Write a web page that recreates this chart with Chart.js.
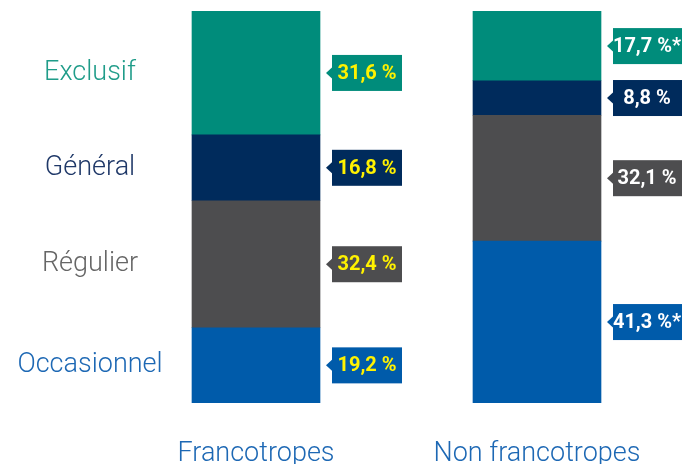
<!DOCTYPE html>
<html>
<head>
<meta charset="utf-8">
<script src="https://cdn.jsdelivr.net/npm/chart.js@4"></script>
<style>
html,body{margin:0;padding:0;background:#fff;}
canvas{display:block;}
</style>
</head>
<body>
<canvas id="c" width="682" height="464"></canvas>
<script>
// ---- data ----
const categories = ['Francotropes', 'Non francotropes'];
const seriesNames = ['Occasionnel', 'Régulier', 'Général', 'Exclusif'];
const occasionnel = [19.2, 41.3];
const regulier = [32.4, 32.1];
const general = [16.8, 8.8];
const exclusif = [31.6, 17.7];
const occasionnelLabels = ['19,2 %', '41,3 %*'];
const regulierLabels = ['32,4 %', '32,1 %'];
const generalLabels = ['16,8 %', '8,8 %'];
const exclusifLabels = ['31,6 %', '17,7 %*'];

// ---- styles ----
const barColors = ['#005BAA', '#4D4D4F', '#002B5C', '#008C7B'];
const nameColors = ['#1D68B4', '#666666', '#1F3868', '#1F9C89'];
const tagTextColors = ['#FFF200', '#FFFFFF'];

const values = [occasionnel, regulier, general, exclusif];
const tagLabels = [occasionnelLabels, regulierLabels, generalLabels, exclusifLabels];

const calloutPlugin = {
  id: 'callouts',
  afterDatasetsDraw(chart) {
    const ctx = chart.ctx;
    ctx.save();
    chart.data.datasets.forEach((ds, di) => {
      const meta = chart.getDatasetMeta(di);
      meta.data.forEach((el, i) => {
        const cy = (el.y + el.base) / 2;
        const right = el.x + el.width / 2;
        const boxX = right + 12;
        const boxW = 70;
        const boxH = 36;
        ctx.fillStyle = barColors[di];
        ctx.fillRect(boxX, cy - boxH / 2, boxW, boxH);
        ctx.beginPath();
        ctx.moveTo(boxX + 0.5, cy - 6);
        ctx.lineTo(boxX - 6, cy);
        ctx.lineTo(boxX + 0.5, cy + 6);
        ctx.closePath();
        ctx.fill();
        ctx.fillStyle = tagTextColors[i];
        ctx.font = 'bold 20px "Roboto", "Liberation Sans", sans-serif';
        ctx.textAlign = 'center';
        ctx.textBaseline = 'middle';
        ctx.fillText(tagLabels[di][i], boxX + (i === 0 ? 35 : 34), cy + 1);
      });
      // series name on the left, aligned with first bar's segment
      const el0 = meta.data[0];
      const cy0 = (el0.y + el0.base) / 2;
      ctx.fillStyle = nameColors[di];
      ctx.font = '300 27px "Roboto", "Liberation Sans", sans-serif';
      ctx.textAlign = 'center';
      ctx.textBaseline = 'middle';
      ctx.fillText(seriesNames[di], 90, cy0);
    });
    ctx.restore();
  }
};

new Chart(document.getElementById('c'), {
  type: 'bar',
  data: {
    labels: categories,
    datasets: seriesNames.map((n, k) => ({
      label: n,
      data: values[k],
      backgroundColor: barColors[k],
      borderWidth: 0,
      barThickness: 128
    }))
  },
  options: {
    responsive: false,
    devicePixelRatio: 1,
    animation: false,
    layout: { padding: { left: 115.5, right: 4.5, top: 11, bottom: 0 } },
    plugins: { legend: { display: false }, tooltip: { enabled: false } },
    scales: {
      x: {
        stacked: true,
        grid: { display: false, drawTicks: false },
        border: { display: false },
        afterFit(scale) { scale.height = 61; },
        ticks: {
          color: '#1D68B4',
          padding: 35,
          font: { family: 'Roboto, "Liberation Sans", sans-serif', size: 27, weight: 300 }
        }
      },
      y: {
        stacked: true,
        display: false,
        min: 0,
        max: 100
      }
    }
  },
  plugins: [calloutPlugin]
});
</script>
</body>
</html>
